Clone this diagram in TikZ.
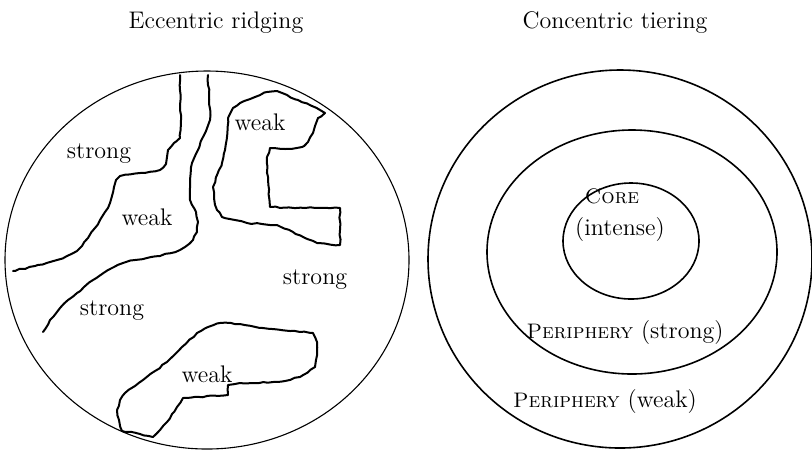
\documentclass[tikz,border=0pt]{standalone}
\usetikzlibrary{decorations.pathmorphing}
\newcommand{\scword}[1]{{\fontsize{10.5}{12}\selectfont\textsc{#1}}}
\begin{document}
\begin{tikzpicture}[x=0.5pt,y=-0.5pt,font=\fontsize{12}{14}\selectfont,
    ridge/.style={line width=1pt,line join=round,line cap=round,
        decorate,decoration={random steps,segment length=2.5pt,amplitude=0.35pt}},
    rim/.style={line width=0.55pt},
    ring/.style={line width=0.8pt}]
    \pgfmathsetseed{7}
    \useasboundingbox (0,0) rectangle (812,452);

    % titles
    \node[anchor=base] (ecc) at (216,28) {Eccentric ridging};
    \node[anchor=base] (conc) at (615,28) {Concentric tiering};

    % left: eccentric ridging
    \draw[rim] (207,260) ellipse [x radius=202, y radius=189];
    \draw[ridge] (180,75) -- (180,105) -- (181,120) -- (180,138) -- (174,143) -- (168,150)
        -- (167,157) -- (166,164) -- (160,170) -- (140,173) -- (120,176) -- (116,180)
        -- (114,187) -- (112,196) -- (110,203) -- (105,212) -- (100,220) -- (95,228)
        -- (88,238) -- (82,246) -- (77,251) -- (67,256) -- (57,260) -- (35,266) -- (13,271);
    \draw[ridge] (208,75) -- (209,95) -- (210,120) -- (206,131) -- (203,137) -- (198,150)
        -- (192,163) -- (190,180) -- (190,200) -- (196,212) -- (198,222) -- (197,232)
        -- (193,240) -- (185,247) -- (180,250) -- (160,256) -- (147,258) -- (135,260)
        -- (123,263) -- (108,270) -- (93,280) -- (84,287) -- (77,293) -- (68,300)
        -- (60,308) -- (50,320) -- (43,332);
    \draw[ridge] (228,118) -- (233,108) -- (240,103) -- (255,97) -- (267,92) -- (277,91)
        -- (298,100) -- (320,110) -- (325,113) -- (318,118) -- (315,126) -- (313,133)
        -- (308,142) -- (302,147) -- (285,149) -- (270,148) -- (267,157) -- (268,180)
        -- (270,207) -- (305,208) -- (340,208) -- (340,230) -- (340,245) -- (317,243)
        -- (305,238) -- (293,232) -- (277,225) -- (262,224) -- (247,223) -- (235,220)
        -- (222,217) -- (217,210) -- (214,198) -- (213,187) -- (217,175) -- (222,163)
        -- (225,150) -- (227,137) -- cycle;
    \draw[ridge] (122,431) -- (119,420) -- (117,410) -- (120,400) -- (125,393) -- (135,386)
        -- (143,380) -- (155,371) -- (167,362) -- (182,347) -- (197,333) -- (208,327)
        -- (220,323) -- (240,324) -- (263,328) -- (290,331) -- (313,333) -- (317,342)
        -- (317,350) -- (316,360) -- (315,367) -- (300,377) -- (285,381) -- (273,382)
        -- (255,383) -- (240,383) -- (228,385) -- (228,395) -- (200,397) -- (183,398)
        -- (177,407) -- (172,414) -- (167,422) -- (160,430) -- (153,437) -- (140,434) -- cycle;

    \node (strongNW) at (99,154) {strong};
    \node (weakMid) at (147,217) {weak};
    \node (weakNE) at (260,122) {weak};
    \node (strongE) at (315,280) {strong};
    \node (strongSW) at (112,311) {strong};
    \node (weakS) at (207,374) {weak};

    % right: concentric tiering
    \draw[ring] (620,259) ellipse [x radius=192, y radius=189];
    \draw[ring] (632,252) ellipse [x radius=145, y radius=122];
    \draw[ring] (631,241) ellipse [x radius=68, y radius=58];

    \node (core) at (612,196) {\scword{Core}};
    \node (intense) at (620,229) {(intense)};
    \node (perStrong) at (625,332) {\scword{Periphery} (strong)};
    \node (perWeak) at (605,401) {\scword{Periphery} (weak)};
\end{tikzpicture}
\end{document}
